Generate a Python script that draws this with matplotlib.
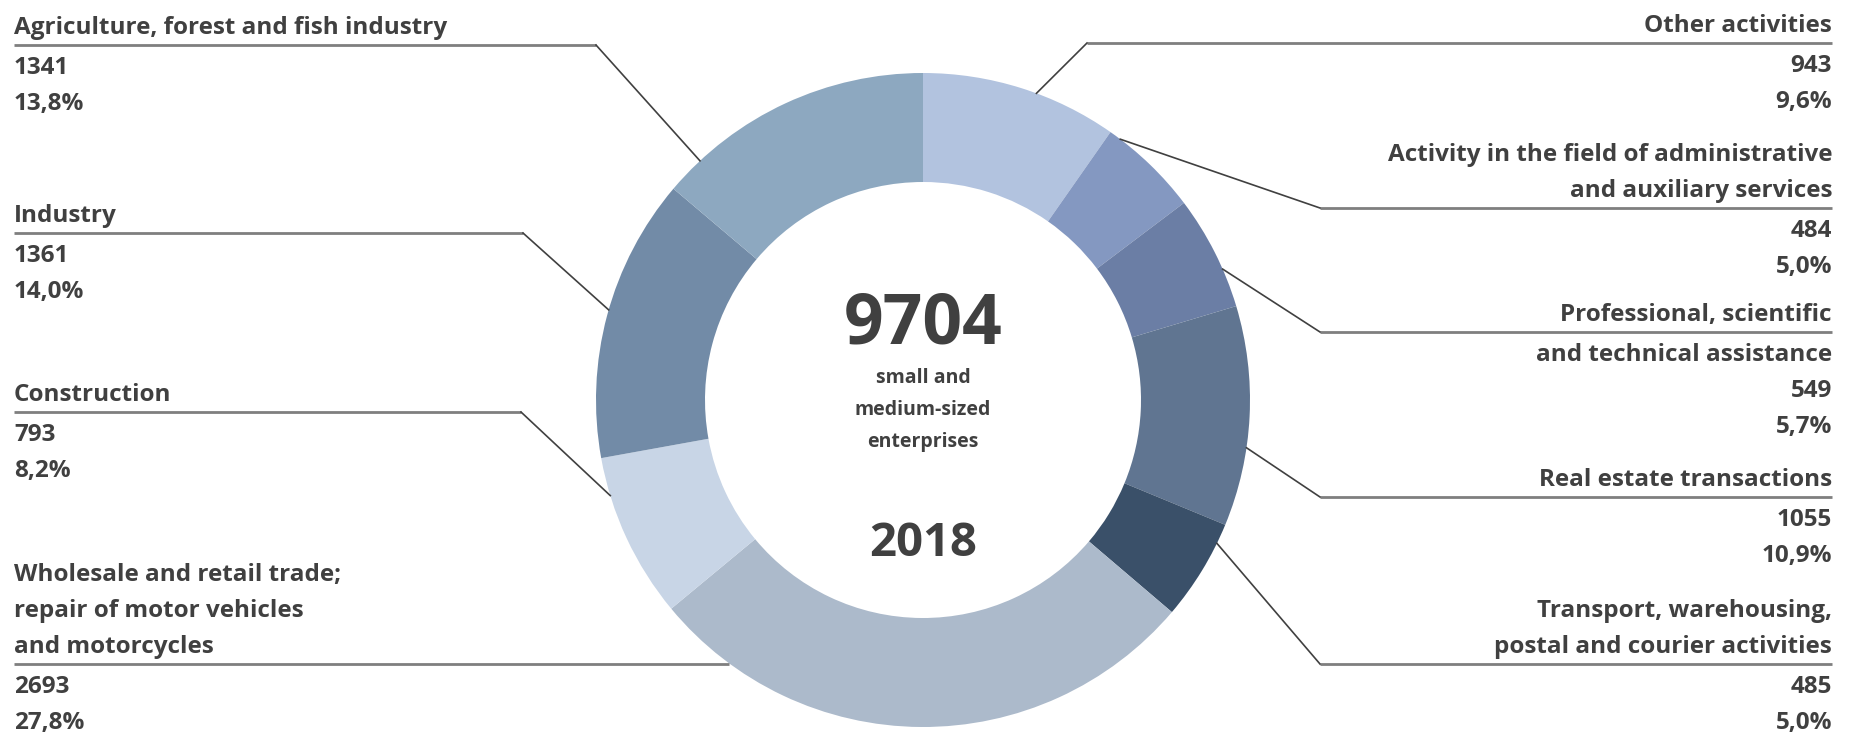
import matplotlib.pyplot as plt
import numpy as np

# data, clockwise from 12 o'clock
categories = [
    ["Other activities"],
    ["Activity in the field of administrative", "and auxiliary services"],
    ["Professional, scientific", "and technical assistance"],
    ["Real estate transactions"],
    ["Transport, warehousing,", "postal and courier activities"],
    ["Wholesale and retail trade;", "repair of motor vehicles", "and motorcycles"],
    ["Construction"],
    ["Industry"],
    ["Agriculture, forest and fish industry"],
]
values = [943, 484, 549, 1055, 485, 2693, 793, 1361, 1341]
shares = ["9,6%", "5,0%", "5,7%", "10,9%", "5,0%", "27,8%", "8,2%", "14,0%", "13,8%"]
total_label = "9704"
subtitle = ["small and", "medium-sized", "enterprises"]
year = "2018"

colors = ["#B2C3DF", "#8498C1", "#6B7EA5", "#607591", "#3A5069",
          "#ACBACB", "#C8D5E6", "#728BA7", "#8DA8C0"]

# label layout (pixels, y from top): side, first line y, underline after n lines,
# elbow x, anchor angle on ring
layout = [
    ("right", 26, 1, 1087, 69.7),
    ("right", 155, 2, 1320, 52.9),
    ("right", 315, 1, 1320, 23.6),
    ("right", 480, 1, 1320, -8.4),
    ("right", 611, 2, 1320, -26.0),
    ("left", 575, 3, None, 233.6),
    ("left", 395, 1, 521, 197.0),
    ("left", 216, 1, 523, 164.0),
    ("left", 28, 1, 596, 133.0),
]

W, H = 1857, 733
cx, cy = 923, 400
R, r_in = 327, 218
x_left, x_right = 14, 1832
pitch, gap = 36, 4
txt = "#404040"
fam = ["Liberation Sans Narrow", "Open Sans", "DejaVu Sans"]


def fy(y):
    return H - y


fig = plt.figure(figsize=(W / 100, H / 100), dpi=100)
ax = fig.add_axes([0, 0, 1, 1])

ax.pie(values, colors=colors, startangle=90, counterclock=False,
       radius=R, center=(cx, fy(cy)),
       wedgeprops=dict(width=R - r_in, linewidth=0))

ax.set_xlim(0, W)
ax.set_ylim(0, H)
ax.set_aspect('equal')
ax.axis('off')

for lines, val, pct, (side, top, ul_after, elbow, ang) in zip(categories, values, shares, layout):
    all_lines = lines + [str(val), pct]
    ha = 'left' if side == 'left' else 'right'
    tx = x_left if side == 'left' else x_right
    for i, s in enumerate(all_lines):
        y = top + i * pitch + (gap if i >= ul_after else 0)
        ax.text(tx, fy(y), s, ha=ha, va='center', fontsize=17.5,
                fontweight='bold', color=txt, family=fam)
    ul_y = top + (ul_after - 1) * pitch + 17
    a = np.deg2rad(ang)
    axp = cx + R * np.cos(a)
    ayp = fy(cy) + R * np.sin(a)
    ex = axp if elbow is None else elbow
    ax.plot([tx, ex], [fy(ul_y), fy(ul_y)], color="#7F7F7F", lw=2.0,
            solid_capstyle='butt')
    if elbow is not None:
        ax.plot([ex, axp], [fy(ul_y), ayp], color=txt, lw=1.2)

# centre text
ax.text(cx, fy(325), total_label, ha='center', va='center', fontsize=50,
        fontweight='bold', color=txt, family=fam)
for i, s in enumerate(subtitle):
    ax.text(cx, fy(378 + i * 32), s, ha='center', va='center', fontsize=14,
            fontweight='bold', color=txt, family=fam)
ax.text(cx, fy(544), year, ha='center', va='center', fontsize=34,
        fontweight='bold', color=txt, family=fam)

fig.savefig("out.png", dpi=100)
